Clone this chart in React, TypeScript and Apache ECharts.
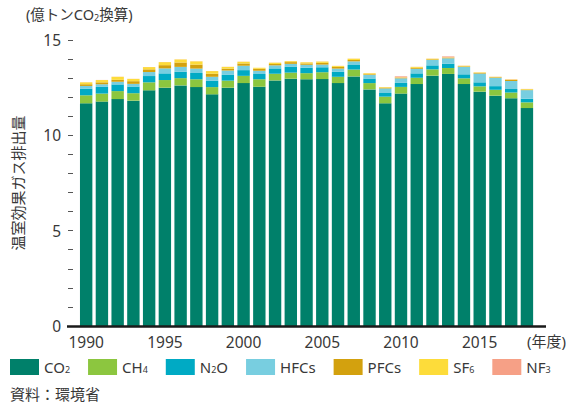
import React, { useEffect, useRef } from "react";
import * as echarts from "echarts";

const years = [
  "1990", "1991", "1992", "1993", "1994", "1995", "1996", "1997", "1998", "1999",
  "2000", "2001", "2002", "2003", "2004", "2005", "2006", "2007", "2008", "2009",
  "2010", "2011", "2012", "2013", "2014", "2015", "2016", "2017", "2018",
];

const co2 = [11.68, 11.77, 11.9, 11.82, 12.36, 12.5, 12.62, 12.53, 12.15, 12.5, 12.74, 12.55, 12.88, 12.97, 12.94, 12.95, 12.74, 13.09, 12.41, 11.68, 12.19, 12.69, 13.13, 13.22, 12.69, 12.29, 12.08, 11.94, 11.43];
const ch4 = [0.42, 0.42, 0.42, 0.39, 0.42, 0.4, 0.38, 0.41, 0.38, 0.37, 0.38, 0.39, 0.35, 0.32, 0.32, 0.36, 0.33, 0.36, 0.33, 0.35, 0.35, 0.33, 0.33, 0.31, 0.3, 0.28, 0.31, 0.3, 0.3];
const n2o = [0.35, 0.35, 0.35, 0.35, 0.33, 0.35, 0.33, 0.33, 0.33, 0.3, 0.3, 0.28, 0.28, 0.3, 0.28, 0.26, 0.26, 0.24, 0.24, 0.19, 0.21, 0.23, 0.21, 0.23, 0.21, 0.21, 0.19, 0.19, 0.19];
const hfcs = [0.14, 0.14, 0.14, 0.14, 0.21, 0.26, 0.26, 0.23, 0.21, 0.23, 0.23, 0.17, 0.16, 0.16, 0.16, 0.14, 0.17, 0.19, 0.19, 0.24, 0.24, 0.24, 0.28, 0.28, 0.39, 0.46, 0.44, 0.42, 0.45];
const pfcs = [0.09, 0.1, 0.1, 0.14, 0.14, 0.17, 0.23, 0.21, 0.16, 0.1, 0.12, 0.1, 0.07, 0.09, 0.07, 0.09, 0.09, 0.07, 0.035, 0.035, 0.035, 0.05, 0.035, 0.03, 0.03, 0.03, 0.03, 0.05, 0.03];
const sf6 = [0.1, 0.12, 0.16, 0.12, 0.12, 0.16, 0.16, 0.17, 0.14, 0.09, 0.09, 0.05, 0.07, 0.05, 0.06, 0.07, 0.05, 0.07, 0.05, 0.035, 0.02, 0.05, 0.035, 0.02, 0.03, 0.03, 0.02, 0.03, 0.03];
const nf3 = [0.005, 0.005, 0.005, 0.005, 0.005, 0.005, 0.005, 0.005, 0.005, 0.005, 0.005, 0.005, 0.005, 0.005, 0.005, 0.005, 0.005, 0.005, 0.005, 0.005, 0.05, 0.005, 0.005, 0.05, 0.005, 0.005, 0.005, 0.005, 0.005];

const seriesNames = ["CO2", "CH4", "N2O", "HFCs", "PFCs", "SF6", "NF3"];
const seriesData = [co2, ch4, n2o, hfcs, pfcs, sf6, nf3];
const seriesColors = ["#00806a", "#8cc63f", "#00aac4", "#78cee0", "#d3a10e", "#fddc3a", "#f6a086"];
const legendLabels: Record<string, string> = {
  CO2: "{n|CO}{s|2}",
  CH4: "{n|CH}{s|4}",
  N2O: "{n|N}{s|2}{n|O}",
  HFCs: "{n|HFCs}",
  PFCs: "{n|PFCs}",
  SF6: "{n|SF}{s|6}",
  NF3: "{n|NF}{s|3}",
};

const yTicks = [0, 5, 10, 15];

const FONT = "'Noto Sans', 'Noto Sans CJK JP', sans-serif";
const TXT = "#383838";

export default function App() {
  const ref = useRef<HTMLDivElement>(null);
  useEffect(() => {
    if (!ref.current) return;
    const chart = echarts.init(ref.current, null, { renderer: "svg" });
    const option: any = {
      animation: false,
      textStyle: { fontFamily: FONT },
      grid: { left: 78.3, right: 31.2, top: 40, bottom: 80, containLabel: false },
      xAxis: {
        type: "category",
        data: years,
        axisLine: { show: false },
        axisTick: { show: false },
        axisLabel: {
          color: TXT,
          fontSize: 15.5,
          fontFamily: FONT,
          margin: 8,
          interval: (i: number) => i % 5 === 0,
        },
      },
      yAxis: {
        type: "value",
        min: yTicks[0],
        max: yTicks[yTicks.length - 1],
        interval: 5,
        offset: 5.3,
        name: "温室効果ガス排出量",
        nameLocation: "middle",
        nameRotate: 90,
        nameGap: 48,
        nameTextStyle: { color: TXT, fontSize: 15, fontFamily: FONT },
        axisLine: { show: false },
        axisTick: { show: true, length: 5, lineStyle: { color: "#555", width: 1 } },
        minorTick: { show: true, splitNumber: 5, length: 5, lineStyle: { color: "#555", width: 1 } },
        splitLine: { show: false },
        axisLabel: { color: TXT, fontSize: 15.5, fontFamily: FONT, margin: 12 },
      },
      legend: {
        left: 10,
        top: 359,
        width: 556,
        icon: "rect",
        itemWidth: 29,
        itemHeight: 16,
        itemGap: 18,
        padding: 0,
        data: seriesNames,
        formatter: (name: string) => legendLabels[name] || name,
        textStyle: {
          color: TXT,
          fontFamily: FONT,
          fontSize: 15,
          rich: {
            n: { fontSize: 15, color: TXT, fontFamily: FONT, lineHeight: 18 },
            s: { fontSize: 9, color: TXT, fontFamily: FONT, lineHeight: 18, padding: [5, 0, 0, 0] },
          },
        },
      },
      series: seriesNames.map((name, i) => ({
        name,
        type: "bar",
        stack: "total",
        barWidth: 12.4,
        data: seriesData[i],
        itemStyle: { color: seriesColors[i] },
        emphasis: { disabled: true },
      })),
      graphic: [
        {
          type: "line",
          z: 100,
          shape: { x1: 67, y1: 326.5, x2: 546, y2: 326.5 },
          style: { stroke: "#1a1a1a", lineWidth: 2.5 },
        },
        {
          type: "text",
          left: 527,
          top: 333,
          style: { text: "(年度)", fill: TXT, fontSize: 15, fontFamily: FONT },
        },
        {
          type: "text",
          left: 26,
          top: 7,
          style: {
            text: "(億トンCO{s|2}換算)",
            fill: TXT,
            fontSize: 14.5,
            fontFamily: FONT,
            rich: {
              s: { fontSize: 9, fill: TXT, fontFamily: FONT, padding: [6, 0, 0, 0] },
            },
          },
        },
        {
          type: "text",
          left: 10,
          top: 386,
          style: { text: "資料：環境省", fill: TXT, fontSize: 15, fontFamily: FONT },
        },
      ],
    };
    chart.setOption(option);
    return () => chart.dispose();
  }, []);
  return (
    <div
      ref={ref}
      style={{ position: "absolute", left: 0, top: 0, width: 566, height: 406 }}
    />
  );
}
